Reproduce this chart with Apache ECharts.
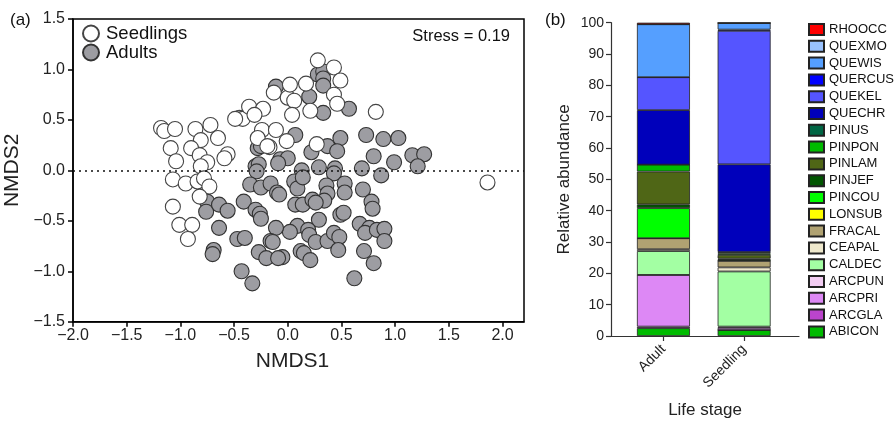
<!DOCTYPE html>
<html><head><meta charset="utf-8">
<script src="https://cdn.jsdelivr.net/npm/echarts@6/dist/echarts.min.js"></script>
<style>html,body{margin:0;padding:0;background:#fff}#c{width:894px;height:423px}</style>
</head><body><div id="c"></div>
<script>
// ---------- Panel (a): NMDS scatter ----------
const seedlings = [
[-1.18,0.42],[-1.15,0.39],[-1.05,0.41],[-0.86,0.41],[-0.72,0.45],[-0.81,0.30],[-0.90,0.22],[-0.65,0.32],
[-1.09,0.22],[-1.04,0.09],[-0.82,0.15],[-0.75,0.08],[-0.81,0.04],[-0.56,0.16],[-0.59,0.12],[-0.45,0.52],
[-0.42,0.51],[-0.49,0.51],[-0.36,0.63],[-0.23,0.61],[-0.31,0.55],[-0.24,0.40],[-0.11,0.40],[-0.28,0.32],
[-0.17,0.23],[-0.13,0.77],[0.0,0.72],[0.06,0.69],[-0.01,0.29],[0.04,0.55],[0.28,1.09],[0.43,1.02],
[0.49,0.89],[0.17,0.86],[0.02,0.85],[0.43,0.75],[0.46,0.66],[0.21,0.59],[0.82,0.58],[0.27,0.26],
[1.86,-0.12],[-1.07,-0.09],[-0.95,-0.13],[-0.84,-0.11],[-0.78,-0.08],[-0.73,-0.16],[-0.82,-0.26],
[-1.07,-0.36],[-1.01,-0.54],[-0.89,-0.54],[-0.93,-0.68],[-0.19,0.24]
];
const adults = [
[-0.11,0.83],[-0.28,0.22],[-0.25,0.24],[-0.07,0.11],[0.0,0.12],[-0.30,0.04],[-0.27,0.06],[-0.29,-0.01],
[0.28,0.95],[0.33,0.98],[0.33,0.91],[0.33,0.84],[0.20,0.73],[0.33,0.57],[0.57,0.61],[0.07,0.35],
[0.37,0.24],[0.49,0.32],[0.46,0.19],[0.22,0.18],[0.73,0.35],[0.89,0.31],[1.03,0.32],[0.80,0.14],
[0.99,0.08],[1.16,0.15],[1.27,0.16],[1.21,0.04],[0.13,0.0],[0.29,0.03],[0.44,0.02],[0.43,-0.03],
[0.69,0.02],[0.87,-0.05],[0.06,-0.11],[0.09,-0.18],[0.14,-0.07],[0.36,-0.15],[0.37,-0.23],[0.34,-0.30],
[0.53,-0.13],[0.53,-0.22],[0.70,-0.19],[0.78,-0.31],[0.79,-0.38],[0.07,-0.34],[0.14,-0.34],[0.23,-0.29],
[0.26,-0.32],[0.49,-0.44],[0.52,-0.42],[0.29,-0.49],[0.67,-0.53],[0.76,-0.57],[0.72,-0.62],[0.83,-0.59],
[0.90,-0.58],[0.90,-0.70],[0.09,-0.55],[0.02,-0.61],[0.19,-0.59],[0.20,-0.64],[0.26,-0.71],[0.37,-0.70],
[0.43,-0.62],[0.48,-0.66],[0.47,-0.79],[0.12,-0.80],[0.15,-0.82],[0.21,-0.89],[-0.05,-0.86],[0.71,-0.80],
[0.80,-0.92],[0.62,-1.07],[-0.75,-0.31],[-0.76,-0.41],[-0.64,-0.34],[-0.56,-0.40],[-0.64,-0.57],
[-0.69,-0.79],[-0.70,-0.83],[-0.47,-0.68],[-0.40,-0.67],[-0.43,-1.00],[-0.33,-1.12],[-0.41,-0.31],
[-0.35,-0.14],[-0.25,-0.17],[-0.16,-0.13],[-0.10,-0.22],[-0.08,-0.24],[-0.30,-0.39],[-0.26,-0.43],
[-0.25,-0.48],[-0.11,-0.57],[-0.16,-0.70],[-0.14,-0.71],[-0.27,-0.81],[-0.20,-0.87],[-0.09,-0.87],[-0.09,0.07]
];
const xTicks = [-2.0,-1.5,-1.0,-0.5,0.0,0.5,1.0,1.5,2.0];

// ---------- Panel (b): stacked bars ----------
const stages = ['Adult','Seedling'];
const stagePos = [1, 2];
const species = ['ABICON','ARCGLA','ARCPRI','ARCPUN','CALDEC','CEAPAL','FRACAL','LONSUB','PINCOU','PINJEF',
                 'PINLAM','PINPON','PINUS','QUECHR','QUEKEL','QUERCUS','QUEWIS','QUEXMO','RHOOCC'];
const speciesColors = ['#00BB00','#BB44CC','#DD88F5','#F2CCF2','#A3FFA3','#EEE8CC','#B0A272','#FFFF00','#00FF00','#005500',
                 '#4F6616','#00BB00','#006644','#0000BB','#5555FF','#0000FF','#559FFF','#99C2FF','#FF0000'];
const adultVals =    [2.5,0.5,16.5,0,7.6,0.6,3.5,0,9.6,1.2,10.5,2.2,0,17.4,10.5,0,16.9,0,0.5];
const seedlingVals = [1.9,0,0.7,0.4,17.6,1.3,2.1,0,0.3,0.4,1.2,0.5,0.4,28.0,42.6,0.4,2.1,0,0];
const legendOrder = species.slice().reverse();

const FONT = 'Liberation Sans, Arial, sans-serif';
const fmt = v => (v < 0 ? '\u2212' : '') + Math.abs(v).toFixed(1);

// data rows are [value, position]; encode puts the value on y so stacking uses y
const barSeries = species.map((sp, i) => ({
  name: sp, type: 'bar', stack: 'total', xAxisIndex: 1, yAxisIndex: 1,
  barWidth: 53,
  encode: { x: 1, y: 0 },
  itemStyle: { color: speciesColors[i], borderColor: '#222', borderWidth: 0.8 },
  data: stagePos.map((p, k) => {
    const v = k === 0 ? adultVals[i] : seedlingVals[i];
    return [v > 0 ? v : 0, p];
  })
}));

const option = {
  animation: false,
  textStyle: { fontFamily: FONT },
  grid: [
    { left: 73, top: 19, width: 451, height: 302.7, outerBoundsMode: 'none', containLabel: false,
      show: true, borderColor: '#000', borderWidth: 1.5, backgroundColor: 'transparent' },
    { left: 611, top: 22.7, width: 188, height: 313.3, outerBoundsMode: 'none', containLabel: false }
  ],
  xAxis: [
    { gridIndex: 0, type: 'value', min: -2, max: 2.2,
      name: 'NMDS1', nameLocation: 'middle', nameGap: 29,
      nameTextStyle: { fontSize: 21, color: '#222', fontFamily: FONT, padding: [0, 12, 0, 0] },
      axisLine: { onZero: false, lineStyle: { color: '#000', width: 1.5 } },
      axisTick: { customValues: xTicks, length: 5, lineStyle: { color: '#000', width: 1.5 } },
      axisLabel: { customValues: xTicks, formatter: fmt, fontSize: 16, color: '#222', margin: 6, fontFamily: FONT },
      splitLine: { show: false } },
    { gridIndex: 1, type: 'value', min: 0.35, max: 2.68,
      name: 'Life stage', nameLocation: 'middle', nameGap: 66,
      nameTextStyle: { fontSize: 17, color: '#222', fontFamily: FONT },
      axisLine: { onZero: false, lineStyle: { color: '#333', width: 1.2 } },
      axisTick: { customValues: stagePos, length: 5, lineStyle: { color: '#333', width: 1.2 } },
      axisLabel: { customValues: stagePos, formatter: v => stages[stagePos.indexOf(v)] || '', rotate: 45,
                   fontSize: 14, color: '#222', margin: 11, fontFamily: FONT },
      splitLine: { show: false } }
  ],
  yAxis: [
    { gridIndex: 0, type: 'value', min: -1.5, max: 1.5, interval: 0.5,
      name: 'NMDS2', nameLocation: 'middle', nameGap: 44,
      nameTextStyle: { fontSize: 21, color: '#222', fontFamily: FONT },
      axisLine: { onZero: false, lineStyle: { color: '#000', width: 1.5 } },
      axisTick: { length: 5, lineStyle: { color: '#000', width: 1.5 } },
      axisLabel: { formatter: fmt, fontSize: 16, color: '#222', margin: 8, fontFamily: FONT },
      splitLine: { show: false } },
    { gridIndex: 1, type: 'value', min: 0, max: 100, interval: 10,
      name: 'Relative abundance', nameLocation: 'middle', nameGap: 38,
      nameTextStyle: { fontSize: 17, color: '#222', fontFamily: FONT },
      axisLine: { show: true, lineStyle: { color: '#333', width: 1.2 } },
      axisTick: { show: true, length: 5, lineStyle: { color: '#333', width: 1.2 } },
      axisLabel: { fontSize: 14, color: '#222', margin: 7, fontFamily: FONT },
      splitLine: { show: false } }
  ],
  legend: [
    { data: ['Seedlings','Adults'], orient: 'vertical', left: 77, top: 19,
      icon: 'circle', itemWidth: 16, itemHeight: 16, itemGap: 0,
      textStyle: { fontSize: 18.5, color: '#111', fontFamily: FONT, lineHeight: 16, padding: [0,0,0,2] } },
    { data: legendOrder, orient: 'vertical', left: 803, top: 18,
      icon: 'rect', itemWidth: 15, itemHeight: 11, itemGap: 3.8,
      textStyle: { fontSize: 13, color: '#111', fontFamily: FONT, lineHeight: 13 } }
  ],
  graphic: [
    { type: 'text', left: 10, top: 12, style: { text: '(a)', fontSize: 17, fill: '#111', fontFamily: FONT } },
    { type: 'text', left: 545, top: 12, style: { text: '(b)', fontSize: 17, fill: '#111', fontFamily: FONT } },
    { type: 'text', right: 384, top: 28, style: { text: 'Stress = 0.19', fontSize: 16.5, fill: '#111', fontFamily: FONT } }
  ],
  series: [
    { type: 'scatter', name: 'ref', xAxisIndex: 0, yAxisIndex: 0, data: [], z: 1,
      markLine: { silent: true, symbol: 'none', label: { show: false },
        lineStyle: { type: [2, 4], color: '#111', width: 1.5 }, data: [{ yAxis: 0 }] } },
    { type: 'scatter', name: 'Adults', xAxisIndex: 0, yAxisIndex: 0, data: adults, symbolSize: 15, z: 2,
      itemStyle: { color: '#9D9DA2', borderColor: '#333', borderWidth: 1.1, opacity: 1 } },
    { type: 'scatter', name: 'Seedlings', xAxisIndex: 0, yAxisIndex: 0, data: seedlings, symbolSize: 15, z: 3,
      itemStyle: { color: '#FFFFFF', borderColor: '#444', borderWidth: 1.1, opacity: 1 } }
  ].concat(barSeries)
};
const chart = echarts.init(document.getElementById('c'), null, { renderer: 'canvas' });
chart.setOption(option);
</script></body></html>
